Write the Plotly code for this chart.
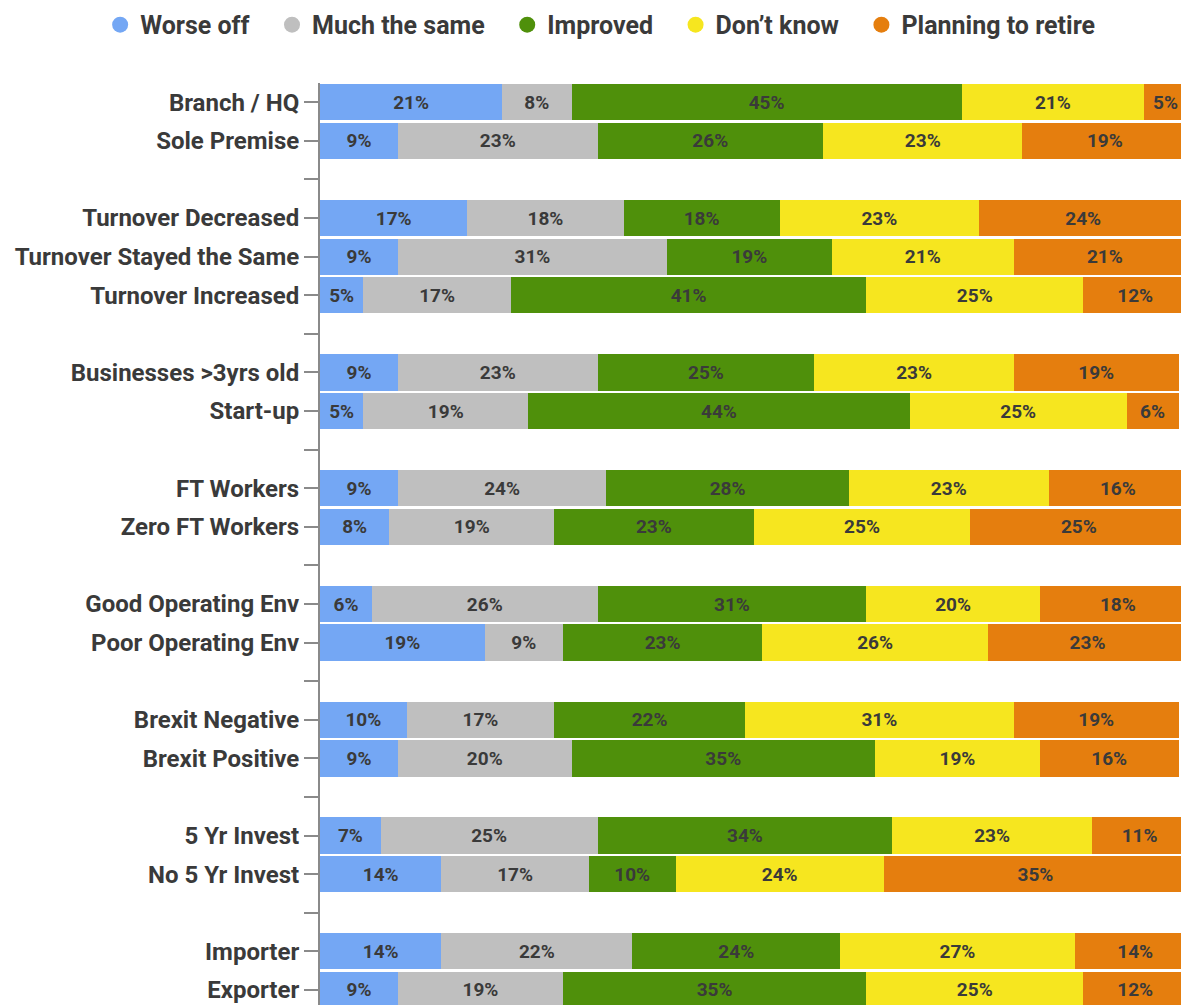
import plotly.graph_objects as go

# rows top-to-bottom; blank-ish names are spacer rows
rows = ["Branch / HQ", "Sole Premise", " ",
        "Turnover Decreased", "Turnover Stayed the Same", "Turnover Increased", "  ",
        "Businesses >3yrs old", "Start-up", "   ",
        "FT Workers", "Zero FT Workers", "    ",
        "Good Operating Env", "Poor Operating Env", "     ",
        "Brexit Negative", "Brexit Positive", "      ",
        "5 Yr Invest", "No 5 Yr Invest", "       ",
        "Importer", "Exporter"]

worse_off = [21, 9, None, 17, 9, 5, None, 9, 5, None, 9, 8, None, 6, 19, None, 10, 9, None, 7, 14, None, 14, 9]
much_same = [8, 23, None, 18, 31, 17, None, 23, 19, None, 24, 19, None, 26, 9, None, 17, 20, None, 25, 17, None, 22, 19]
improved = [45, 26, None, 18, 19, 41, None, 25, 44, None, 28, 23, None, 31, 23, None, 22, 35, None, 34, 10, None, 24, 35]
dont_know = [21, 23, None, 23, 21, 25, None, 23, 25, None, 23, 25, None, 20, 26, None, 31, 19, None, 23, 24, None, 27, 25]
retire = [5, 19, None, 24, 21, 12, None, 19, 6, None, 16, 25, None, 18, 23, None, 19, 16, None, 11, 35, None, 14, 12]

series = [
    ("Worse off", worse_off, "#74a7f4"),
    ("Much the same", much_same, "#bfbfbf"),
    ("Improved", improved, "#4f900b"),
    ("Don\u2019t know", dont_know, "#f6e61f"),
    ("Planning to retire", retire, "#e57e0e"),
]

font_family = "Roboto, sans-serif"
text_col = "#3a3a3a"
pad = "\u00a0\u00a0\u200a\u200a"  # extra room after each legend entry

fig = go.Figure()
for name, vals, col in series:
    fig.add_trace(go.Bar(
        y=rows, x=vals, orientation="h", name=name,
        marker=dict(color=col, line=dict(width=0)),
        text=[f"{v}%" if v is not None else "" for v in vals],
        textposition="inside", insidetextanchor="middle", textangle=0,
        textfont=dict(family=font_family, size=19, color=text_col, weight="bold"),
        showlegend=False, hoverinfo="skip",
    ))
    # legend entry with a round marker
    fig.add_trace(go.Scatter(
        x=[None], y=[None], mode="markers", name=name + pad,
        marker=dict(color=col, size=18, symbol="circle"),
    ))

# page body has an 8px margin, so the figure is sized to fit the window
fig.update_layout(
    barmode="stack",
    bargap=0.06,
    width=1181, height=997,
    margin=dict(l=312, r=0, t=75, b=0, autoexpand=False),
    plot_bgcolor="white", paper_bgcolor="white",
    uniformtext=dict(minsize=19, mode="show"),
    legend=dict(
        orientation="h", x=-0.253, xanchor="left", xref="paper",
        y=1.063, yanchor="middle", yref="paper",
        font=dict(family=font_family, size=25, color=text_col, weight="bold"),
        itemsizing="trace", itemwidth=30, traceorder="normal",
    ),
    xaxis=dict(range=[0, 100.2], visible=False, fixedrange=True),
    yaxis=dict(
        type="category", categoryorder="array", categoryarray=rows,
        range=[23.39, -0.5], automargin=False,
        showline=True, linecolor="#8a8a8a", linewidth=2,
        ticks="outside", ticklen=14, tickcolor="#8a8a8a", tickwidth=2,
        tickfont=dict(family=font_family, size=24, color=text_col, weight="bold"),
        showgrid=False, zeroline=False,
    ),
)

fig.write_html("out.html")
